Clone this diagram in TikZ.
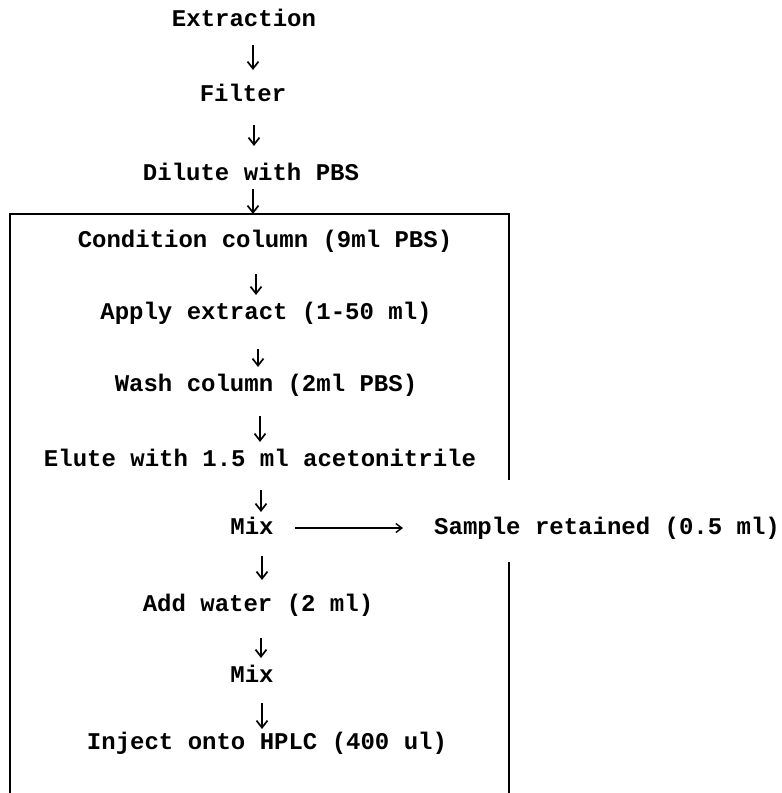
\documentclass[tikz,border=0pt]{standalone}
\usepackage{fontspec}
\setmainfont{Liberation Mono}
\usetikzlibrary{arrows.meta}
\begin{document}
\begin{tikzpicture}[x=1pt,y=-1pt,
  lbl/.style={inner sep=0pt, text height=13.7pt, text depth=0pt,
    font=\bfseries\fontsize{24}{24}\selectfont},
  darr/.style={line width=1.7pt, -{Straight Barb[length=7pt,width=11pt,line width=1.7pt]}},
  harr/.style={line width=1.4pt, -{Straight Barb[length=6pt,width=9pt,line width=1.4pt]}},
  boxline/.style={line width=2.3pt}]
\useasboundingbox (0,0) rectangle (782,793);
\fill[white] (0,0) rectangle (782,793);
% texts
\node[lbl] (ext)  at (244,20)  {Extraction};
\node[lbl] (fil)  at (243,95)  {Filter};
\node[lbl] (dil)  at (251,174) {Dilute with PBS};
\node[lbl] (con)  at (265,241) {Condition column (9ml PBS)};
\node[lbl] (app)  at (266,313) {Apply extract (1-50 ml)};
\node[lbl] (was)  at (266,385) {Wash column (2ml PBS)};
\node[lbl] (elu)  at (260,460) {Elute with 1.5 ml acetonitrile};
\node[lbl] (mixa) at (252,528) {Mix};
\node[lbl,anchor=west] (sam) at (434,528) {Sample retained (0.5 ml)};
\node[lbl] (add)  at (258,605) {Add water (2 ml)};
\node[lbl] (mixb) at (252,676) {Mix};
\node[lbl] (inj)  at (267,743) {Inject onto HPLC (400 ul)};
% box
\draw[boxline] (10,793) -- (10,214) -- (509,214) -- (509,480);
\draw[boxline] (509,562) -- (509,793);
% arrows
\draw[darr, shorten <=18pt, shorten >=18pt] (ext.south -| 253,0) -- (fil.north -| 253,0);
\draw[darr, shorten <=23pt, shorten >=21pt] (fil.south -| 254,0) -- (dil.north -| 254,0);
\draw[darr, shorten <=8pt,  shorten >=20pt] (dil.south -| 253,0) -- (con.north -| 253,0);
\draw[darr, shorten <=26pt, shorten >=11pt] (con.south -| 256,0) -- (app.north -| 256,0);
\draw[darr, shorten <=29pt, shorten >=11pt] (app.south -| 258,0) -- (was.north -| 258,0);
\draw[darr, shorten <=24pt, shorten >=11pt] (was.south -| 260,0) -- (elu.north -| 260,0);
\draw[darr, shorten <=23pt, shorten >=9pt]  (elu.south -| 261,0) -- (mixa.north -| 261,0);
\draw[darr, shorten <=21pt, shorten >=18pt] (mixa.south -| 262,0) -- (add.north -| 262,0);
\draw[darr, shorten <=26pt, shorten >=11pt] (add.south -| 261,0) -- (mixb.north -| 261,0);
\draw[darr, shorten <=20pt, shorten >=7pt]  (mixb.south -| 262,0) -- (inj.north -| 262,0);
\draw[harr, shorten <=21pt, shorten >=31pt] (mixa.east) -- (sam.west);
\end{tikzpicture}
\end{document}
